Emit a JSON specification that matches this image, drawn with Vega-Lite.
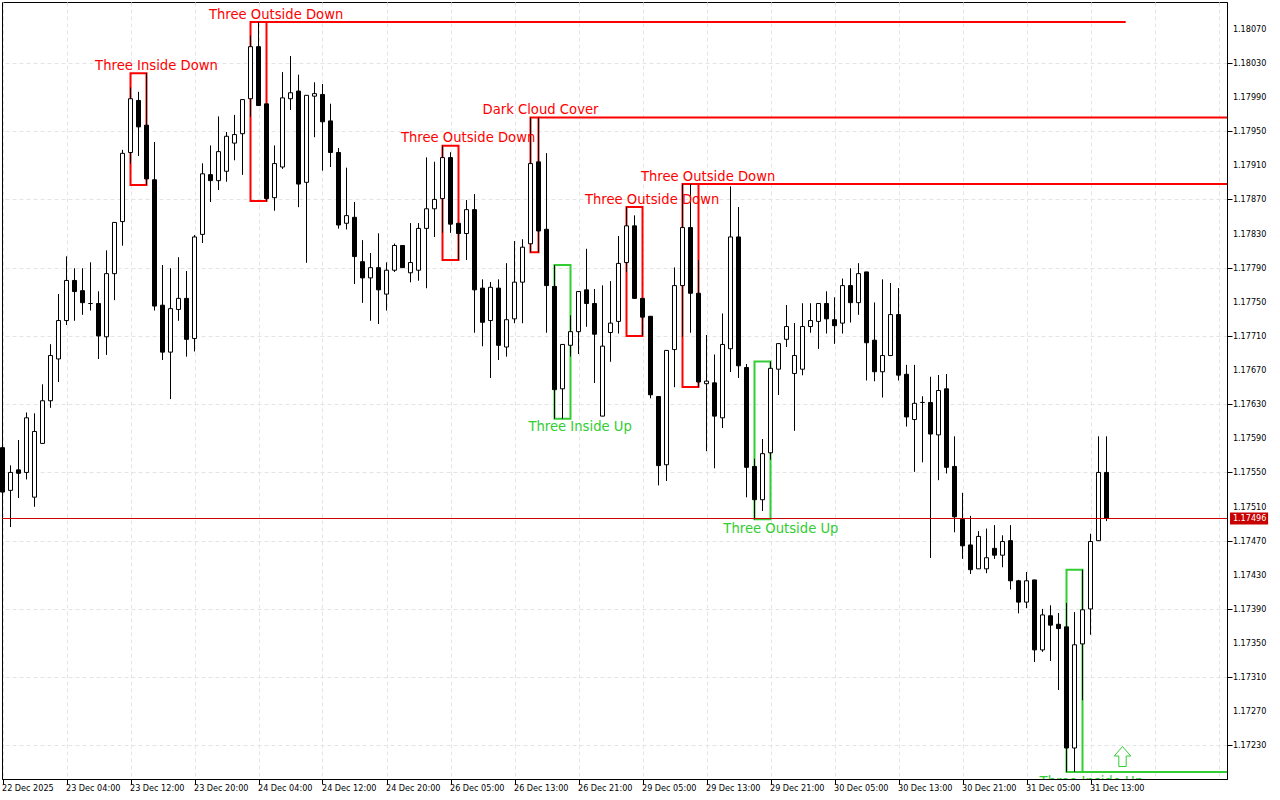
{"$schema":"https://vega.github.io/schema/vega-lite/v6.json","width":1225,"height":777,"autosize":{"type":"none"},"padding":{"left":2,"top":2,"right":53,"bottom":21},"background":"white","config":{"view":{"stroke":"#000000","strokeWidth":1},"axis":{"labelFont":"DejaVu Sans Condensed","labelFontSize":9,"labelColor":"#000000","domainColor":"#000000","tickColor":"#000000","labelOverlap":false,"labelFlush":false,"labelBound":false,"title":null}},
"datasets":{
"candles":[
{"i":0,"o":1.17579,"h":1.1758,"l":1.17527,"c":1.17527},{"i":1,"o":1.17529,"h":1.17558,"l":1.17486,"c":1.1755},{"i":2,"o":1.17553,"h":1.17588,"l":1.1752,"c":1.17549},{"i":3,"o":1.1755,"h":1.1762,"l":1.17542,"c":1.17614},{"i":4,"o":1.17521,"h":1.17619,"l":1.1751,"c":1.17598},{"i":5,"o":1.17584,"h":1.17653,"l":1.17584,"c":1.17634},{"i":6,"o":1.17634,"h":1.177,"l":1.17626,"c":1.17687},{"i":7,"o":1.17683,"h":1.17759,"l":1.17656,"c":1.17728},{"i":8,"o":1.17728,"h":1.17803,"l":1.17723,"c":1.17775},{"i":9,"o":1.17775,"h":1.17789,"l":1.17728,"c":1.17762},{"i":10,"o":1.17763,"h":1.17789,"l":1.17735,"c":1.17749},{"i":11,"o":1.17748,"h":1.17796,"l":1.1774,"c":1.17748},{"i":12,"o":1.17748,"h":1.17762,"l":1.17683,"c":1.1771},{"i":13,"o":1.17709,"h":1.1781,"l":1.17688,"c":1.17783},{"i":14,"o":1.17783,"h":1.17843,"l":1.17752,"c":1.17843},{"i":15,"o":1.17844,"h":1.17928,"l":1.17816,"c":1.17924},{"i":16,"o":1.17925,"h":1.18001,"l":1.17912,"c":1.17988},{"i":17,"o":1.17986,"h":1.17996,"l":1.17921,"c":1.17955},{"i":18,"o":1.17957,"h":1.18018,"l":1.17887,"c":1.17894},{"i":19,"o":1.17893,"h":1.17937,"l":1.1774,"c":1.17745},
{"i":20,"o":1.17746,"h":1.17793,"l":1.17682,"c":1.17691},{"i":21,"o":1.17691,"h":1.17789,"l":1.17636,"c":1.17742},{"i":22,"o":1.17741,"h":1.17802,"l":1.17728,"c":1.17754},{"i":23,"o":1.17754,"h":1.17786,"l":1.17686,"c":1.17706},{"i":24,"o":1.17707,"h":1.17828,"l":1.17692,"c":1.17826},{"i":25,"o":1.17829,"h":1.17912,"l":1.17819,"c":1.179},{"i":26,"o":1.17899,"h":1.17933,"l":1.17867,"c":1.17892},{"i":27,"o":1.17892,"h":1.17967,"l":1.17881,"c":1.17926},{"i":28,"o":1.17903,"h":1.17949,"l":1.17891,"c":1.17944},{"i":29,"o":1.17936,"h":1.17969,"l":1.17916,"c":1.17946},{"i":30,"o":1.17947,"h":1.17987,"l":1.17899,"c":1.17987},{"i":31,"o":1.17988,"h":1.18062,"l":1.17967,"c":1.18049},{"i":32,"o":1.18049,"h":1.18078,"l":1.1798,"c":1.1798},{"i":33,"o":1.17982,"h":1.17982,"l":1.17868,"c":1.17871},{"i":34,"o":1.17872,"h":1.17933,"l":1.17857,"c":1.17912},{"i":35,"o":1.17908,"h":1.18019,"l":1.17906,"c":1.17989},{"i":36,"o":1.17988,"h":1.18038,"l":1.17975,"c":1.17995},{"i":37,"o":1.17997,"h":1.18016,"l":1.17861,"c":1.17888},{"i":38,"o":1.1789,"h":1.17992,"l":1.17796,"c":1.17992},{"i":39,"o":1.17991,"h":1.18007,"l":1.17943,"c":1.17994},
{"i":40,"o":1.17993,"h":1.18005,"l":1.17904,"c":1.17961},{"i":41,"o":1.17962,"h":1.17982,"l":1.17908,"c":1.17925},{"i":42,"o":1.17925,"h":1.1793,"l":1.17836,"c":1.1784},{"i":43,"o":1.17842,"h":1.17907,"l":1.17835,"c":1.17851},{"i":44,"o":1.17849,"h":1.17867,"l":1.17771,"c":1.17803},{"i":45,"o":1.17797,"h":1.17822,"l":1.17749,"c":1.17778},{"i":46,"o":1.17778,"h":1.17807,"l":1.17728,"c":1.1779},{"i":47,"o":1.1779,"h":1.1783,"l":1.17724,"c":1.17764},{"i":48,"o":1.17759,"h":1.17796,"l":1.1774,"c":1.17787},{"i":49,"o":1.17787,"h":1.17818,"l":1.17785,"c":1.17816},{"i":50,"o":1.17816,"h":1.17816,"l":1.1779,"c":1.1779},{"i":51,"o":1.17784,"h":1.17842,"l":1.17773,"c":1.17796},{"i":52,"o":1.17787,"h":1.17842,"l":1.17775,"c":1.17836},{"i":53,"o":1.17836,"h":1.17919,"l":1.17766,"c":1.17859},{"i":54,"o":1.17859,"h":1.17914,"l":1.17826,"c":1.1787},{"i":55,"o":1.17871,"h":1.17933,"l":1.17831,"c":1.17919},{"i":56,"o":1.17919,"h":1.17925,"l":1.17831,"c":1.17841},{"i":57,"o":1.17842,"h":1.17842,"l":1.17799,"c":1.1783},{"i":58,"o":1.1783,"h":1.17869,"l":1.17799,"c":1.17858},{"i":59,"o":1.17858,"h":1.17876,"l":1.17714,"c":1.17764},
{"i":60,"o":1.17766,"h":1.17776,"l":1.17698,"c":1.17726},{"i":61,"o":1.17728,"h":1.17773,"l":1.17661,"c":1.17767},{"i":62,"o":1.17766,"h":1.17776,"l":1.17682,"c":1.17699},{"i":63,"o":1.17697,"h":1.17795,"l":1.17686,"c":1.17729},{"i":64,"o":1.1773,"h":1.17821,"l":1.17725,"c":1.17773},{"i":65,"o":1.17773,"h":1.17823,"l":1.17725,"c":1.17814},{"i":66,"o":1.17818,"h":1.17966,"l":1.17808,"c":1.17912},{"i":67,"o":1.17914,"h":1.17966,"l":1.17808,"c":1.17833},{"i":68,"o":1.17835,"h":1.17924,"l":1.17714,"c":1.17769},{"i":69,"o":1.17768,"h":1.17793,"l":1.17613,"c":1.17647},{"i":70,"o":1.17648,"h":1.177,"l":1.17613,"c":1.177},{"i":71,"o":1.17699,"h":1.17734,"l":1.17686,"c":1.17715},{"i":72,"o":1.17715,"h":1.17762,"l":1.17689,"c":1.17762},{"i":73,"o":1.17764,"h":1.17812,"l":1.17721,"c":1.17748},{"i":74,"o":1.17748,"h":1.17765,"l":1.17655,"c":1.17712},{"i":75,"o":1.17616,"h":1.17769,"l":1.17616,"c":1.17698},{"i":76,"o":1.17714,"h":1.17774,"l":1.1768,"c":1.17725},{"i":77,"o":1.17727,"h":1.17827,"l":1.17713,"c":1.17795},{"i":78,"o":1.17796,"h":1.17861,"l":1.17785,"c":1.17839},{"i":79,"o":1.17839,"h":1.17851,"l":1.17754,"c":1.17754},
{"i":80,"o":1.17754,"h":1.17754,"l":1.1771,"c":1.17732},{"i":81,"o":1.17733,"h":1.17733,"l":1.17637,"c":1.17641},{"i":82,"o":1.17639,"h":1.17639,"l":1.17535,"c":1.17558},{"i":83,"o":1.17559,"h":1.17693,"l":1.1754,"c":1.17693},{"i":84,"o":1.17694,"h":1.1779,"l":1.1765,"c":1.17769},{"i":85,"o":1.17769,"h":1.17888,"l":1.17709,"c":1.17837},{"i":86,"o":1.17837,"h":1.17888,"l":1.17714,"c":1.1776},{"i":87,"o":1.1776,"h":1.17799,"l":1.1765,"c":1.17656},{"i":88,"o":1.17654,"h":1.17711,"l":1.17575,"c":1.17657},{"i":89,"o":1.17655,"h":1.17688,"l":1.17555,"c":1.17616},{"i":90,"o":1.17614,"h":1.17736,"l":1.17602,"c":1.177},{"i":91,"o":1.17695,"h":1.17885,"l":1.17668,"c":1.17826},{"i":92,"o":1.17826,"h":1.17861,"l":1.17661,"c":1.17675},{"i":93,"o":1.17673,"h":1.17677,"l":1.17521,"c":1.17556},{"i":94,"o":1.17557,"h":1.17566,"l":1.17495,"c":1.17518},{"i":95,"o":1.17518,"h":1.17589,"l":1.17505,"c":1.17572},{"i":96,"o":1.17573,"h":1.1768,"l":1.17565,"c":1.17672},{"i":97,"o":1.17671,"h":1.17701,"l":1.17641,"c":1.17701},{"i":98,"o":1.17706,"h":1.17746,"l":1.17697,"c":1.17721},{"i":99,"o":1.17666,"h":1.17725,"l":1.17599,"c":1.17687},
{"i":100,"o":1.17671,"h":1.17748,"l":1.17664,"c":1.17721},{"i":101,"o":1.17721,"h":1.17748,"l":1.17714,"c":1.17728},{"i":102,"o":1.17727,"h":1.17748,"l":1.17695,"c":1.17748},{"i":103,"o":1.17748,"h":1.17762,"l":1.17713,"c":1.1773},{"i":104,"o":1.17729,"h":1.17755,"l":1.17701,"c":1.17722},{"i":105,"o":1.17725,"h":1.17777,"l":1.17713,"c":1.17769},{"i":106,"o":1.17769,"h":1.17789,"l":1.17726,"c":1.17749},{"i":107,"o":1.17749,"h":1.17795,"l":1.17735,"c":1.17783},{"i":108,"o":1.17785,"h":1.17785,"l":1.17658,"c":1.17702},{"i":109,"o":1.17705,"h":1.17749,"l":1.17657,"c":1.17668},{"i":110,"o":1.17668,"h":1.17776,"l":1.17638,"c":1.17687},{"i":111,"o":1.17687,"h":1.17772,"l":1.17687,"c":1.17735},{"i":112,"o":1.17735,"h":1.17766,"l":1.17658,"c":1.17664},{"i":113,"o":1.17665,"h":1.17676,"l":1.17604,"c":1.17615},{"i":114,"o":1.17612,"h":1.17676,"l":1.17551,"c":1.17631},{"i":115,"o":1.17632,"h":1.17639,"l":1.17562,"c":1.17632},{"i":116,"o":1.17632,"h":1.17662,"l":1.1745,"c":1.17595},{"i":117,"o":1.17594,"h":1.17664,"l":1.17541,"c":1.17646},{"i":118,"o":1.17648,"h":1.17665,"l":1.17549,"c":1.17556},{"i":119,"o":1.17557,"h":1.17592,"l":1.1748,"c":1.17498},
{"i":120,"o":1.17495,"h":1.17526,"l":1.17449,"c":1.17464},{"i":121,"o":1.17465,"h":1.17499,"l":1.17431,"c":1.17436},{"i":122,"o":1.17437,"h":1.17481,"l":1.17437,"c":1.17475},{"i":123,"o":1.17437,"h":1.17484,"l":1.17432,"c":1.1745},{"i":124,"o":1.17461,"h":1.17488,"l":1.17449,"c":1.17453},{"i":125,"o":1.17453,"h":1.17476,"l":1.17439,"c":1.17469},{"i":126,"o":1.1747,"h":1.17488,"l":1.17413,"c":1.17423},{"i":127,"o":1.17423,"h":1.17424,"l":1.17385,"c":1.17398},{"i":128,"o":1.17398,"h":1.17433,"l":1.17391,"c":1.17423},{"i":129,"o":1.17424,"h":1.17424,"l":1.17328,"c":1.17342},{"i":130,"o":1.17342,"h":1.1739,"l":1.1734,"c":1.17383},{"i":131,"o":1.17382,"h":1.17394,"l":1.17329,"c":1.17371},{"i":132,"o":1.17372,"h":1.17385,"l":1.17295,"c":1.17367},{"i":133,"o":1.17369,"h":1.17397,"l":1.17199,"c":1.17227},{"i":134,"o":1.17227,"h":1.17386,"l":1.17199,"c":1.17348},{"i":135,"o":1.17349,"h":1.17436,"l":1.17283,"c":1.17389},{"i":136,"o":1.1739,"h":1.17478,"l":1.1736,"c":1.17469},{"i":137,"o":1.1747,"h":1.17592,"l":1.1747,"c":1.1755},{"i":138,"o":1.1755,"h":1.17592,"l":1.17493,"c":1.17496}
],
"patterns":[
{"name":"Three Inside Down","kind":"bear","a":16,"b":18,"top":1.18018,"bottom":1.17887},
{"name":"Three Outside Down","kind":"bear","a":31,"b":33,"top":1.18078,"bottom":1.17868},
{"name":"Three Outside Down","kind":"bear","a":55,"b":57,"top":1.17933,"bottom":1.17799},
{"name":"Dark Cloud Cover","kind":"bear","a":66,"b":67,"top":1.17966,"bottom":1.17808},
{"name":"Three Inside Up","kind":"bull","a":69,"b":71,"top":1.17793,"bottom":1.17613},
{"name":"Three Outside Down","kind":"bear","a":78,"b":80,"top":1.17861,"bottom":1.1771},
{"name":"Three Outside Down","kind":"bear","a":85,"b":87,"top":1.17888,"bottom":1.1765},
{"name":"Three Outside Up","kind":"bull","a":94,"b":96,"top":1.1768,"bottom":1.17495},
{"name":"Three Inside Up","kind":"bull","a":133,"b":135,"top":1.17436,"bottom":1.17199}
],
"levels":[
{"kind":"bear","a":33,"b":140.4,"p":1.18078},
{"kind":"bear","a":67,"b":153.0625,"p":1.17966},
{"kind":"bear","a":87,"b":153.0625,"p":1.17888},
{"kind":"bull","a":135,"b":153.0625,"p":1.17199}
],
"labels":[
{"t":"Three Inside Down","kind":"bear","i":19.25,"p":1.18027},
{"t":"Three Outside Down","kind":"bear","i":34.2,"p":1.18087},
{"t":"Dark Cloud Cover","kind":"bear","i":67.25,"p":1.17976},
{"t":"Three Outside Down","kind":"bear","i":58.2,"p":1.17943},
{"t":"Three Outside Down","kind":"bear","i":81.2,"p":1.1787},
{"t":"Three Outside Down","kind":"bear","i":88.2,"p":1.17897},
{"t":"Three Inside Up","kind":"bull","i":72.2,"p":1.17604},
{"t":"Three Outside Up","kind":"bull","i":97.3,"p":1.17485},
{"t":"Three Inside Up","kind":"bull","i":136.1,"p":1.17188}
],
"ticks":[{"v":1.1723,"x":153.8},{"v":1.1727,"x":153.8},{"v":1.1731,"x":153.8},{"v":1.1735,"x":153.8},{"v":1.1739,"x":153.8},{"v":1.1743,"x":153.8},{"v":1.1747,"x":153.8},{"v":1.1751,"x":153.8},{"v":1.1755,"x":153.8},{"v":1.1759,"x":153.8},{"v":1.1763,"x":153.8},{"v":1.1767,"x":153.8},{"v":1.1771,"x":153.8},{"v":1.1775,"x":153.8},{"v":1.1779,"x":153.8},{"v":1.1783,"x":153.8},{"v":1.1787,"x":153.8},{"v":1.1791,"x":153.8},{"v":1.1795,"x":153.8},{"v":1.1799,"x":153.8},{"v":1.1803,"x":153.8},{"v":1.1807,"x":153.8}],
"price":[{"p":1.17496,"a":-0.0625,"b":153.0625,"la":153.44,"lb":158.2,"top":1.17503,"bottom":1.17489,"txt":"1.17496","tx":153.8}],
"arrow":[{"i":140,"p":1.17217}]
},
"layer":[
{"data":{"name":"candles"},"mark":{"type":"rule","color":"#000000","strokeWidth":1},
"encoding":{
"x":{"field":"i","type":"quantitative","scale":{"domain":[-0.0625,153.0625],"nice":false,"zero":false,"padding":0},
"axis":{"values":[0,4,8,12,16,20,24,28,32,36,40,44,48,52,56,60,64,68,72,76,80,84,88,92,96,100,104,108,112,116,120,124,128,132,136,140,144,148,152],
"grid":true,"gridColor":"#E4E4E4","gridDash":[4,3],"gridWidth":1,"domain":true,"tickSize":5,"tickOpacity":{"expr":"datum.value%8==0&&datum.value<=136?1:0"},"labelAlign":"left","labelBaseline":"top","labelPadding":-1,"labelOffset":-1,"labelExpr":"datum.value%8==0&&datum.value<=136?['22 Dec 2025','23 Dec 04:00','23 Dec 12:00','23 Dec 20:00','24 Dec 04:00','24 Dec 12:00','24 Dec 20:00','26 Dec 05:00','26 Dec 13:00','26 Dec 21:00','29 Dec 05:00','29 Dec 13:00','29 Dec 21:00','30 Dec 05:00','30 Dec 13:00','30 Dec 21:00','31 Dec 05:00','31 Dec 13:00'][datum.value/8]:''"}},
"y":{"field":"l","type":"quantitative","scale":{"domain":[1.17190675,1.18101375],"nice":false,"zero":false},
"axis":{"orient":"right","values":[1.1723,1.1727,1.1731,1.1735,1.1739,1.1743,1.1747,1.1751,1.1755,1.1759,1.1763,1.1767,1.1771,1.1775,1.1779,1.1783,1.1787,1.1791,1.1795,1.1799,1.1803,1.1807],"labels":false,"grid":true,"gridColor":"#E4E4E4","gridDash":[4,3],"gridWidth":1,"tickSize":5}},
"y2":{"field":"h"}
}},
{"data":{"name":"patterns"},"mark":{"type":"rect","fillOpacity":0,"strokeWidth":2},
"encoding":{"x":{"field":"a","type":"quantitative"},"x2":{"field":"b"},"y":{"field":"top","type":"quantitative"},"y2":{"field":"bottom"},
"stroke":{"field":"kind","type":"nominal","scale":{"domain":["bear","bull"],"range":["#FF0000","#32CD32"]},"legend":null}}},
{"data":{"name":"levels"},"mark":{"type":"rule","strokeWidth":2},
"encoding":{"x":{"field":"a","type":"quantitative"},"x2":{"field":"b"},"y":{"field":"p","type":"quantitative"},
"stroke":{"field":"kind","type":"nominal","scale":{"domain":["bear","bull"],"range":["#FF0000","#32CD32"]},"legend":null}}},
{"data":{"name":"candles"},"mark":{"type":"rule","color":"#000000","strokeWidth":1},
"encoding":{"x":{"field":"i","type":"quantitative"},"y":{"field":"l","type":"quantitative"},"y2":{"field":"h"}}},
{"data":{"name":"candles"},"mark":{"type":"bar","size":4,"orient":"vertical","stroke":"#000000","strokeWidth":1},
"encoding":{"x":{"field":"i","type":"quantitative"},"y":{"field":"o","type":"quantitative"},"y2":{"field":"c"},
"fill":{"condition":{"test":"datum.c>=datum.o","value":"#FFFFFF"},"value":"#000000"}}},
{"data":{"name":"price"},"mark":{"type":"rule","color":"#CC0000","strokeWidth":1},
"encoding":{"x":{"field":"a","type":"quantitative"},"x2":{"field":"b"},"y":{"field":"p","type":"quantitative"}}},
{"data":{"name":"labels"},"mark":{"type":"text","font":"DejaVu Sans","fontSize":13.2,"align":"center","baseline":"middle","clip":true,"dy":1},
"encoding":{"x":{"field":"i","type":"quantitative"},"y":{"field":"p","type":"quantitative"},"text":{"field":"t"},
"fill":{"field":"kind","type":"nominal","scale":{"domain":["bear","bull"],"range":["#FF0000","#32CD32"]},"legend":null}}},
{"data":{"name":"arrow"},"mark":{"type":"point","shape":"M0,-1L0.83,-0.05L0.37,-0.05L0.37,1L-0.37,1L-0.37,-0.05L-0.83,-0.05Z","size":400,"filled":true,"fill":"#FFFFFF","stroke":"#32CD32","strokeWidth":1,"opacity":1},
"encoding":{"x":{"field":"i","type":"quantitative"},"y":{"field":"p","type":"quantitative"}}},
{"data":{"name":"ticks"},"mark":{"type":"text","font":"DejaVu Sans Condensed","fontSize":9,"fill":"#000000","align":"left","baseline":"middle"},
"encoding":{"x":{"field":"x","type":"quantitative"},"y":{"field":"v","type":"quantitative"},"text":{"field":"v","type":"quantitative","format":".5f"}}},
{"data":{"name":"price"},"mark":{"type":"rect","fill":"#C80000"},
"encoding":{"x":{"field":"la","type":"quantitative"},"x2":{"field":"lb"},"y":{"field":"top","type":"quantitative"},"y2":{"field":"bottom"}}},
{"data":{"name":"price"},"mark":{"type":"text","font":"DejaVu Sans Condensed","fontSize":9,"fill":"#FFFFFF","align":"left","baseline":"middle"},
"encoding":{"x":{"field":"tx","type":"quantitative"},"y":{"field":"p","type":"quantitative"},"text":{"field":"txt"}}}
]}
